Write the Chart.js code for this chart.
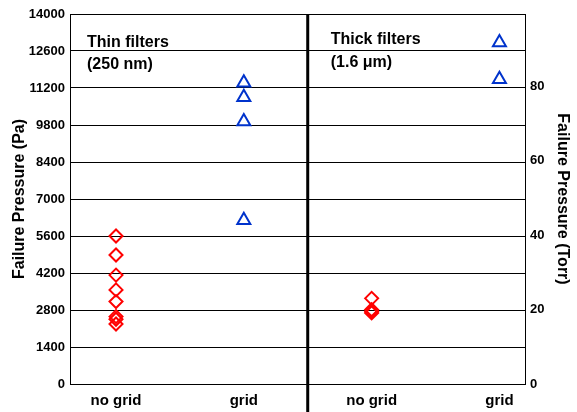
<!DOCTYPE html>
<html>
<head>
<meta charset="utf-8">
<script src="https://cdn.jsdelivr.net/npm/chart.js@4"></script>
<style>
  body { margin: 0; background: #fff; }
  #wrap { width: 577px; height: 412px; }
</style>
</head>
<body>
<div id="wrap"><canvas id="presion" width="577" height="412"></canvas></div>
<script>
// categorias del eje x (dos paneles: filtros finos y gruesos)
const categorias = ['no grid', 'grid', 'no grid', 'grid'];

// presion de falla (Pa)
const finoSinRejilla = [5600, 4880, 4120, 3560, 3120, 2550, 2450, 2270];
const finoConRejilla = [11400, 10850, 9930, 6200];
const gruesoSinRejilla = [3240, 2810, 2740, 2690];
const gruesoConRejilla = [12920, 11530];

const ticksPa = [0, 1400, 2800, 4200, 5600, 7000, 8400, 9800, 11200, 12600, 14000];
const ticksTorr = [0, 20, 40, 60, 80];

const rojo = 'rgb(255, 0, 0)';
const azul = 'rgb(0, 51, 204)';
const fuente = '"Liberation Sans", Arial, sans-serif';

function puntos(valores, pos){
    return valores.map(v => ({ x: pos, y: v }));
}

// linea divisoria gruesa y rotulos de cada panel
const paneles = {
    id: 'paneles',
    afterDatasetsDraw(chart){
        const { ctx, chartArea, scales } = chart;
        const xDiv = scales.x.getPixelForValue(1.5);
        ctx.save();
        ctx.strokeStyle = '#000';
        ctx.lineWidth = 3;
        ctx.beginPath();
        ctx.moveTo(xDiv, chartArea.top);
        ctx.lineTo(xDiv, chart.height);
        ctx.stroke();

        ctx.fillStyle = '#000';
        ctx.font = 'bold 16px ' + fuente;
        ctx.textAlign = 'left';
        ctx.textBaseline = 'middle';
        ctx.fillText('Thin filters', chartArea.left + 17, chartArea.top + 29);
        ctx.fillText('(250 nm)', chartArea.left + 17, chartArea.top + 51);
        ctx.fillText('Thick filters', xDiv + 23, chartArea.top + 26);
        ctx.fillText('(1.6 μm)', xDiv + 23, chartArea.top + 49);
        ctx.restore();
    }
};

const ctx = document.getElementById('presion');

new Chart(ctx, {
    type: 'scatter',
    data: {
        datasets: [
            { data: puntos(finoSinRejilla, 0), pointStyle: 'rectRot', pointRadius: 6.5, borderColor: rojo, backgroundColor: 'rgba(0,0,0,0)', borderWidth: 2 },
            { data: puntos(finoConRejilla, 1), pointStyle: 'triangle', pointRadius: 7.5, borderColor: azul, backgroundColor: 'rgba(0,0,0,0)', borderWidth: 2 },
            { data: puntos(gruesoSinRejilla, 2), pointStyle: 'rectRot', pointRadius: 6.5, borderColor: rojo, backgroundColor: 'rgba(0,0,0,0)', borderWidth: 2 },
            { data: puntos(gruesoConRejilla, 3), pointStyle: 'triangle', pointRadius: 7.5, borderColor: azul, backgroundColor: 'rgba(0,0,0,0)', borderWidth: 2 }
        ]
    },
    options: {
        responsive: false,
        animation: false,
        layout: { padding: { top: 14, right: 0, bottom: 0, left: 0 } },
        plugins: {
            legend: { display: false },
            tooltip: { enabled: false }
        },
        scales: {
            x: {
                type: 'linear',
                min: -0.36,
                max: 3.2,
                grid: { display: false },
                border: { display: true, color: '#000', width: 1 },
                afterBuildTicks: (s) => { s.ticks = categorias.map((c, i) => ({ value: i })); },
                afterFit: (s) => { s.height = 28; },
                ticks: {
                    padding: 0,
                    color: '#000',
                    font: { family: fuente, size: 15, weight: 'bold' },
                    callback: (v) => categorias[v]
                }
            },
            y: {
                position: 'left',
                min: 0,
                max: 14000,
                afterBuildTicks: (s) => { s.ticks = ticksPa.map(v => ({ value: v })); },
                afterFit: (s) => { s.width = 70; },
                grid: { color: '#000', lineWidth: 1, drawTicks: false },
                border: { display: true, color: '#000', width: 1 },
                ticks: {
                    padding: 5,
                    color: '#000',
                    font: { family: fuente, size: 13, weight: 'bold' },
                    callback: (v) => String(v)
                },
                title: {
                    display: true,
                    text: 'Failure Pressure (Pa)',
                    color: '#000',
                    font: { family: fuente, size: 16, weight: 'bold' },
                    padding: { top: 10, bottom: 0 }
                }
            },
            torr: {
                position: 'right',
                min: 0,
                max: 99.5,
                afterBuildTicks: (s) => { s.ticks = ticksTorr.map(v => ({ value: v })); },
                afterFit: (s) => { s.width = 52; },
                grid: { display: false, drawTicks: false },
                border: { display: true, color: '#000', width: 1 },
                ticks: {
                    padding: 5,
                    color: '#000',
                    font: { family: fuente, size: 13, weight: 'bold' },
                    callback: (v) => String(v)
                },
                title: {
                    display: true,
                    text: 'Failure Pressure (Torr)',
                    color: '#000',
                    font: { family: fuente, size: 16, weight: 'bold' },
                    padding: { top: 5, bottom: 0 }
                }
            }
        }
    },
    plugins: [paneles]
});
</script>
</body>
</html>
